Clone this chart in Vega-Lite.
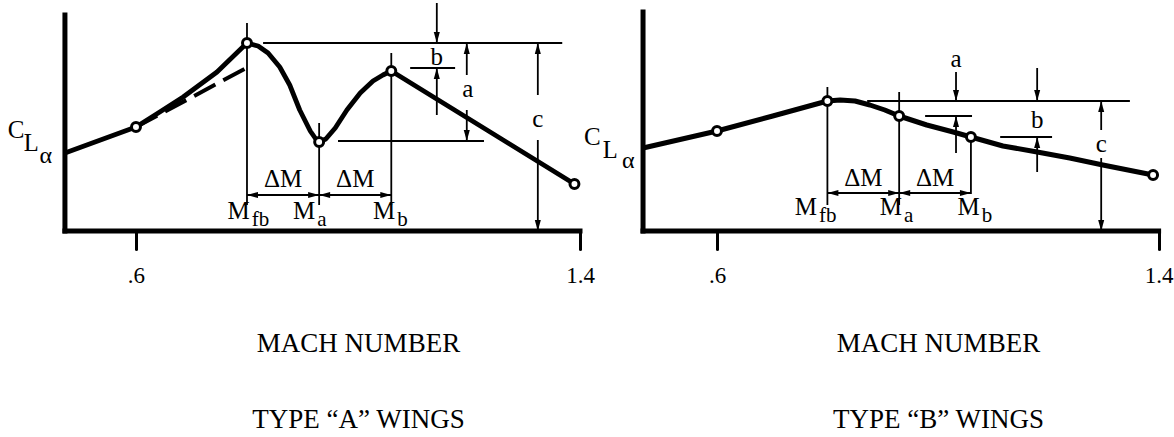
{
  "$schema": "https://vega.github.io/schema/vega-lite/v6.json",
  "background": "white",
  "padding": 0,
  "spacing": 0,
  "bounds": "flush",
  "config": {"view": {"stroke": null}, "font": "Liberation Serif"},
  "datasets": {
    "frame": [
      {"p": "A", "m": 0.472, "m2": 0.472, "c": 0, "c2": 2.16},
      {"p": "A", "m": 0.472, "m2": 1.4, "c": 0, "c2": 0},
      {"p": "B", "m": 0.466, "m2": 0.466, "c": 0, "c2": 2.19},
      {"p": "B", "m": 0.466, "m2": 1.4, "c": 0, "c2": 0}
    ],
    "curve": [
      {"p": "A", "m": 0.472, "c": 0.78},
      {"p": "A", "m": 0.6, "c": 1.04},
      {"p": "A", "m": 0.64, "c": 1.18},
      {"p": "A", "m": 0.685, "c": 1.34},
      {"p": "A", "m": 0.746, "c": 1.59},
      {"p": "A", "m": 0.8, "c": 1.88},
      {"p": "A", "m": 0.82, "c": 1.85},
      {"p": "A", "m": 0.838, "c": 1.78},
      {"p": "A", "m": 0.859, "c": 1.64},
      {"p": "A", "m": 0.877, "c": 1.46},
      {"p": "A", "m": 0.895, "c": 1.21},
      {"p": "A", "m": 0.914, "c": 1.0},
      {"p": "A", "m": 0.924, "c": 0.92},
      {"p": "A", "m": 0.93, "c": 0.89},
      {"p": "A", "m": 0.942, "c": 0.92},
      {"p": "A", "m": 0.959, "c": 1.03},
      {"p": "A", "m": 0.98, "c": 1.21},
      {"p": "A", "m": 1.004, "c": 1.38},
      {"p": "A", "m": 1.027, "c": 1.5},
      {"p": "A", "m": 1.045, "c": 1.56},
      {"p": "A", "m": 1.06, "c": 1.6},
      {"p": "A", "m": 1.39, "c": 0.47},
      {"p": "B", "m": 0.466, "c": 0.83},
      {"p": "B", "m": 0.6, "c": 1.0},
      {"p": "B", "m": 0.701, "c": 1.15},
      {"p": "B", "m": 0.8, "c": 1.3},
      {"p": "B", "m": 0.823, "c": 1.31},
      {"p": "B", "m": 0.85, "c": 1.3},
      {"p": "B", "m": 0.877, "c": 1.26},
      {"p": "B", "m": 0.904, "c": 1.21},
      {"p": "B", "m": 0.93, "c": 1.15},
      {"p": "B", "m": 0.98, "c": 1.06},
      {"p": "B", "m": 1.028, "c": 0.99},
      {"p": "B", "m": 1.06, "c": 0.94},
      {"p": "B", "m": 1.118, "c": 0.85},
      {"p": "B", "m": 1.18, "c": 0.79},
      {"p": "B", "m": 1.239, "c": 0.73},
      {"p": "B", "m": 1.299, "c": 0.66},
      {"p": "B", "m": 1.39, "c": 0.56}
    ],
    "dash": [
      {"p": "A", "m": 0.6, "c": 1.04},
      {"p": "A", "m": 0.809, "c": 1.66}
    ],
    "circles": [
      {"p": "A", "m": 0.6, "c": 1.04},
      {"p": "A", "m": 0.8, "c": 1.88},
      {"p": "A", "m": 0.93, "c": 0.89},
      {"p": "A", "m": 1.06, "c": 1.6},
      {"p": "A", "m": 1.39, "c": 0.47},
      {"p": "B", "m": 0.6, "c": 1.0},
      {"p": "B", "m": 0.8, "c": 1.3},
      {"p": "B", "m": 0.93, "c": 1.15},
      {"p": "B", "m": 1.06, "c": 0.94},
      {"p": "B", "m": 1.39, "c": 0.56}
    ],
    "segs": [
      {"p": "A", "m": 0.8, "m2": 0.8, "c": 2.08, "c2": 0.26},
      {"p": "A", "m": 0.93, "m2": 0.93, "c": 1.08, "c2": 0.26},
      {"p": "A", "m": 1.06, "m2": 1.06, "c": 1.78, "c2": 0.26},
      {"p": "A", "m": 0.8, "m2": 1.06, "c": 0.36, "c2": 0.36},
      {"p": "A", "m": 0.829, "m2": 1.368, "c": 1.88, "c2": 1.88},
      {"p": "A", "m": 0.964, "m2": 1.227, "c": 0.9, "c2": 0.9},
      {"p": "A", "m": 1.094, "m2": 1.175, "c": 1.63, "c2": 1.63},
      {"p": "A", "m": 1.142, "m2": 1.142, "c": 2.28, "c2": 1.88},
      {"p": "A", "m": 1.142, "m2": 1.142, "c": 1.63, "c2": 1.16},
      {"p": "A", "m": 1.196, "m2": 1.196, "c": 1.88, "c2": 1.56},
      {"p": "A", "m": 1.196, "m2": 1.196, "c": 1.21, "c2": 0.9},
      {"p": "A", "m": 1.324, "m2": 1.324, "c": 1.88, "c2": 1.36},
      {"p": "A", "m": 1.324, "m2": 1.324, "c": 0.91, "c2": 0.0},
      {"p": "B", "m": 0.8, "m2": 0.8, "c": 1.44, "c2": 0.26},
      {"p": "B", "m": 0.93, "m2": 0.93, "c": 1.39, "c2": 0.26},
      {"p": "B", "m": 1.06, "m2": 1.06, "c": 0.94, "c2": 0.37},
      {"p": "B", "m": 0.8, "m2": 1.06, "c": 0.38, "c2": 0.38},
      {"p": "B", "m": 0.872, "m2": 1.348, "c": 1.3, "c2": 1.3},
      {"p": "B", "m": 0.977, "m2": 1.062, "c": 1.15, "c2": 1.15},
      {"p": "B", "m": 1.113, "m2": 1.207, "c": 0.94, "c2": 0.94},
      {"p": "B", "m": 1.033, "m2": 1.033, "c": 1.59, "c2": 1.3},
      {"p": "B", "m": 1.033, "m2": 1.033, "c": 1.15, "c2": 0.78},
      {"p": "B", "m": 1.18, "m2": 1.18, "c": 1.63, "c2": 1.3},
      {"p": "B", "m": 1.18, "m2": 1.18, "c": 0.94, "c2": 0.59},
      {"p": "B", "m": 1.296, "m2": 1.296, "c": 1.01, "c2": 1.3},
      {"p": "B", "m": 1.296, "m2": 1.296, "c": 0.73, "c2": 0.0}
    ],
    "heads": [
      {"p": "A", "m": 0.8, "c": 0.36, "dir": "left"},
      {"p": "A", "m": 0.93, "c": 0.36, "dir": "right"},
      {"p": "A", "m": 0.93, "c": 0.36, "dir": "left"},
      {"p": "A", "m": 1.06, "c": 0.36, "dir": "right"},
      {"p": "A", "m": 1.142, "c": 1.88, "dir": "down"},
      {"p": "A", "m": 1.142, "c": 1.63, "dir": "up"},
      {"p": "A", "m": 1.196, "c": 1.88, "dir": "up"},
      {"p": "A", "m": 1.196, "c": 0.9, "dir": "down"},
      {"p": "A", "m": 1.324, "c": 1.88, "dir": "up"},
      {"p": "A", "m": 1.324, "c": 0.0, "dir": "down"},
      {"p": "B", "m": 0.8, "c": 0.38, "dir": "left"},
      {"p": "B", "m": 0.93, "c": 0.38, "dir": "right"},
      {"p": "B", "m": 0.93, "c": 0.38, "dir": "left"},
      {"p": "B", "m": 1.06, "c": 0.38, "dir": "right"},
      {"p": "B", "m": 1.033, "c": 1.3, "dir": "down"},
      {"p": "B", "m": 1.033, "c": 1.15, "dir": "up"},
      {"p": "B", "m": 1.18, "c": 1.3, "dir": "down"},
      {"p": "B", "m": 1.18, "c": 0.94, "dir": "up"},
      {"p": "B", "m": 1.296, "c": 1.3, "dir": "up"},
      {"p": "B", "m": 1.296, "c": 0.0, "dir": "down"}
    ],
    "notes": [
      {"p": "A", "m": 0.865, "c": 0.44, "t": "ΔM"},
      {"p": "A", "m": 0.995, "c": 0.44, "t": "ΔM"},
      {"p": "A", "m": 1.142, "c": 1.66, "t": "b"},
      {"p": "A", "m": 1.198, "c": 1.34, "t": "a"},
      {"p": "A", "m": 1.324, "c": 1.04, "t": "c"},
      {"p": "B", "m": 0.865, "c": 0.45, "t": "ΔM"},
      {"p": "B", "m": 0.995, "c": 0.45, "t": "ΔM"},
      {"p": "B", "m": 1.033, "c": 1.64, "t": "a"},
      {"p": "B", "m": 1.18, "c": 1.03, "t": "b"},
      {"p": "B", "m": 1.296, "c": 0.79, "t": "c"}
    ],
    "mlab": [
      {"p": "A", "m": 0.805, "c": 0.12, "sym": "M", "sub": "fb"},
      {"p": "A", "m": 0.923, "c": 0.12, "sym": "M", "sub": "a"},
      {"p": "A", "m": 1.067, "c": 0.12, "sym": "M", "sub": "b"},
      {"p": "B", "m": 0.781, "c": 0.16, "sym": "M", "sub": "fb"},
      {"p": "B", "m": 0.935, "c": 0.16, "sym": "M", "sub": "a"},
      {"p": "B", "m": 1.076, "c": 0.16, "sym": "M", "sub": "b"}
    ],
    "cla": [
      {"p": "A", "m": 0.369, "c": 0.93, "t": "C", "lvl": 0},
      {"p": "A", "m": 0.398, "c": 0.8, "t": "L", "lvl": 1},
      {"p": "A", "m": 0.426, "c": 0.68, "t": "α", "lvl": 2},
      {"p": "B", "m": 0.359, "c": 0.86, "t": "C", "lvl": 0},
      {"p": "B", "m": 0.393, "c": 0.73, "t": "L", "lvl": 1},
      {"p": "B", "m": 0.428, "c": 0.63, "t": "α", "lvl": 2}
    ]
  },
  "hconcat": [
    {
      "width": 580,
      "height": 231,
      "encoding": {
        "x": {
          "field": "m", "type": "quantitative",
          "scale": {"domain": [0.355, 1.4], "nice": false, "zero": false},
          "axis": {
            "values": [0.6, 1.4], "domain": false, "grid": false,
            "tickSize": 18, "tickWidth": 3, "tickColor": "black", "tickCap": "round",
            "labelExpr": "datum.value < 1 ? '.6' : '1.4'",
            "labelFont": "Liberation Serif", "labelFontSize": 23, "labelColor": "black",
            "labelBaseline": "alphabetic", "labelPadding": 33,
            "labelFlush": false, "labelOverlap": false, "labelBound": false,
            "title": ["MACH NUMBER", "TYPE “A” WINGS"],
            "titleFont": "Liberation Serif", "titleFontSize": 27, "titleFontWeight": "normal",
            "titleColor": "black", "titleX": 358, "titleY": 120,
            "titleBaseline": "alphabetic", "titleAlign": "center", "titleLineHeight": 76
          }
        },
        "y": {"field": "c", "type": "quantitative", "scale": {"domain": [0, 2.31], "nice": false, "zero": false}, "axis": null}
      },
      "layer": [
        {
          "data": {"name": "frame"},
          "transform": [{"filter": "datum.p == 'A'"}],
          "mark": {"type": "rule", "strokeWidth": 5, "color": "black", "strokeCap": "square"},
          "encoding": {"x2": {"field": "m2"}, "y2": {"field": "c2"}}
        },
        {
          "data": {"name": "segs"},
          "transform": [{"filter": "datum.p == 'A'"}],
          "mark": {"type": "rule", "strokeWidth": 1.8, "color": "black"},
          "encoding": {"x2": {"field": "m2"}, "y2": {"field": "c2"}}
        },
        {
          "data": {"name": "dash"},
          "transform": [{"filter": "datum.p == 'A'"}],
          "mark": {"type": "line", "strokeWidth": 4, "color": "black", "strokeDash": [24, 9]},
          "encoding": {}
        },
        {
          "data": {"name": "curve"},
          "transform": [{"filter": "datum.p == 'A'"}],
          "mark": {"type": "line", "strokeWidth": 4.8, "color": "black", "strokeJoin": "round"},
          "encoding": {}
        },
        {
          "data": {"name": "circles"},
          "transform": [{"filter": "datum.p == 'A'"}],
          "mark": {"type": "point", "shape": "circle", "filled": true, "fill": "white", "stroke": "black", "strokeWidth": 3, "size": 80, "opacity": 1},
          "encoding": {}
        },
        {
          "data": {"name": "heads"},
          "transform": [{"filter": "datum.p == 'A'"}],
          "mark": {"type": "point", "filled": true, "color": "black", "size": 121, "opacity": 1},
          "encoding": {
            "shape": {
              "field": "dir", "type": "nominal", "legend": null,
              "scale": {
                "domain": ["right", "left", "down", "up"],
                "range": ["M0,0L-2,-0.55L-2,0.55Z", "M0,0L2,-0.55L2,0.55Z", "M0,0L-0.55,-2L0.55,-2Z", "M0,0L-0.55,2L0.55,2Z"]
              }
            }
          }
        },
        {
          "data": {"name": "notes"},
          "transform": [{"filter": "datum.p == 'A'"}],
          "mark": {"type": "text", "align": "center", "baseline": "alphabetic", "font": "Liberation Serif", "fontSize": 25, "color": "black"},
          "encoding": {"text": {"field": "t"}}
        },
        {
          "data": {"name": "mlab"},
          "transform": [{"filter": "datum.p == 'A'"}],
          "mark": {"type": "text", "align": "right", "baseline": "alphabetic", "font": "Liberation Serif", "fontSize": 25, "color": "black"},
          "encoding": {"text": {"field": "sym"}}
        },
        {
          "data": {"name": "mlab"},
          "transform": [{"filter": "datum.p == 'A'"}],
          "mark": {"type": "text", "align": "left", "baseline": "alphabetic", "dx": 2, "dy": 7, "font": "Liberation Serif", "fontSize": 21, "color": "black"},
          "encoding": {"text": {"field": "sub"}}
        },
        {
          "data": {"name": "cla"},
          "transform": [{"filter": "datum.p == 'A'"}],
          "mark": {"type": "text", "align": "left", "baseline": "alphabetic", "font": "Liberation Serif", "color": "black"},
          "encoding": {
            "text": {"field": "t"},
            "size": {"field": "lvl", "type": "ordinal", "legend": null, "scale": {"domain": [0, 1, 2], "range": [25, 24, 22]}}
          }
        }
      ]
    },
    {
      "width": 594,
      "height": 231,
      "encoding": {
        "x": {
          "field": "m", "type": "quantitative",
          "scale": {"domain": [0.3518, 1.4279], "nice": false, "zero": false},
          "axis": {
            "values": [0.6, 1.4], "domain": false, "grid": false,
            "tickSize": 18, "tickWidth": 3, "tickColor": "black", "tickCap": "round",
            "labelExpr": "datum.value < 1 ? '.6' : '1.4'",
            "labelFont": "Liberation Serif", "labelFontSize": 23, "labelColor": "black",
            "labelBaseline": "alphabetic", "labelPadding": 33,
            "labelFlush": false, "labelOverlap": false, "labelBound": false,
            "title": ["MACH NUMBER", "TYPE “B” WINGS"],
            "titleFont": "Liberation Serif", "titleFontSize": 27, "titleFontWeight": "normal",
            "titleColor": "black", "titleX": 358, "titleY": 120,
            "titleBaseline": "alphabetic", "titleAlign": "center", "titleLineHeight": 76
          }
        },
        "y": {"field": "c", "type": "quantitative", "scale": {"domain": [0, 2.31], "nice": false, "zero": false}, "axis": null}
      },
      "layer": [
        {
          "data": {"name": "frame"},
          "transform": [{"filter": "datum.p == 'B'"}],
          "mark": {"type": "rule", "strokeWidth": 5, "color": "black", "strokeCap": "square"},
          "encoding": {"x2": {"field": "m2"}, "y2": {"field": "c2"}}
        },
        {
          "data": {"name": "segs"},
          "transform": [{"filter": "datum.p == 'B'"}],
          "mark": {"type": "rule", "strokeWidth": 1.8, "color": "black"},
          "encoding": {"x2": {"field": "m2"}, "y2": {"field": "c2"}}
        },
        {
          "data": {"name": "curve"},
          "transform": [{"filter": "datum.p == 'B'"}],
          "mark": {"type": "line", "strokeWidth": 5, "color": "black", "strokeJoin": "round"},
          "encoding": {}
        },
        {
          "data": {"name": "circles"},
          "transform": [{"filter": "datum.p == 'B'"}],
          "mark": {"type": "point", "shape": "circle", "filled": true, "fill": "white", "stroke": "black", "strokeWidth": 3, "size": 80, "opacity": 1},
          "encoding": {}
        },
        {
          "data": {"name": "heads"},
          "transform": [{"filter": "datum.p == 'B'"}],
          "mark": {"type": "point", "filled": true, "color": "black", "size": 121, "opacity": 1},
          "encoding": {
            "shape": {
              "field": "dir", "type": "nominal", "legend": null,
              "scale": {
                "domain": ["right", "left", "down", "up"],
                "range": ["M0,0L-2,-0.55L-2,0.55Z", "M0,0L2,-0.55L2,0.55Z", "M0,0L-0.55,-2L0.55,-2Z", "M0,0L-0.55,2L0.55,2Z"]
              }
            }
          }
        },
        {
          "data": {"name": "notes"},
          "transform": [{"filter": "datum.p == 'B'"}],
          "mark": {"type": "text", "align": "center", "baseline": "alphabetic", "font": "Liberation Serif", "fontSize": 25, "color": "black"},
          "encoding": {"text": {"field": "t"}}
        },
        {
          "data": {"name": "mlab"},
          "transform": [{"filter": "datum.p == 'B'"}],
          "mark": {"type": "text", "align": "right", "baseline": "alphabetic", "font": "Liberation Serif", "fontSize": 25, "color": "black"},
          "encoding": {"text": {"field": "sym"}}
        },
        {
          "data": {"name": "mlab"},
          "transform": [{"filter": "datum.p == 'B'"}],
          "mark": {"type": "text", "align": "left", "baseline": "alphabetic", "dx": 2, "dy": 7, "font": "Liberation Serif", "fontSize": 21, "color": "black"},
          "encoding": {"text": {"field": "sub"}}
        },
        {
          "data": {"name": "cla"},
          "transform": [{"filter": "datum.p == 'B'"}],
          "mark": {"type": "text", "align": "left", "baseline": "alphabetic", "font": "Liberation Serif", "color": "black"},
          "encoding": {
            "text": {"field": "t"},
            "size": {"field": "lvl", "type": "ordinal", "legend": null, "scale": {"domain": [0, 1, 2], "range": [25, 24, 22]}}
          }
        }
      ]
    }
  ]
}
